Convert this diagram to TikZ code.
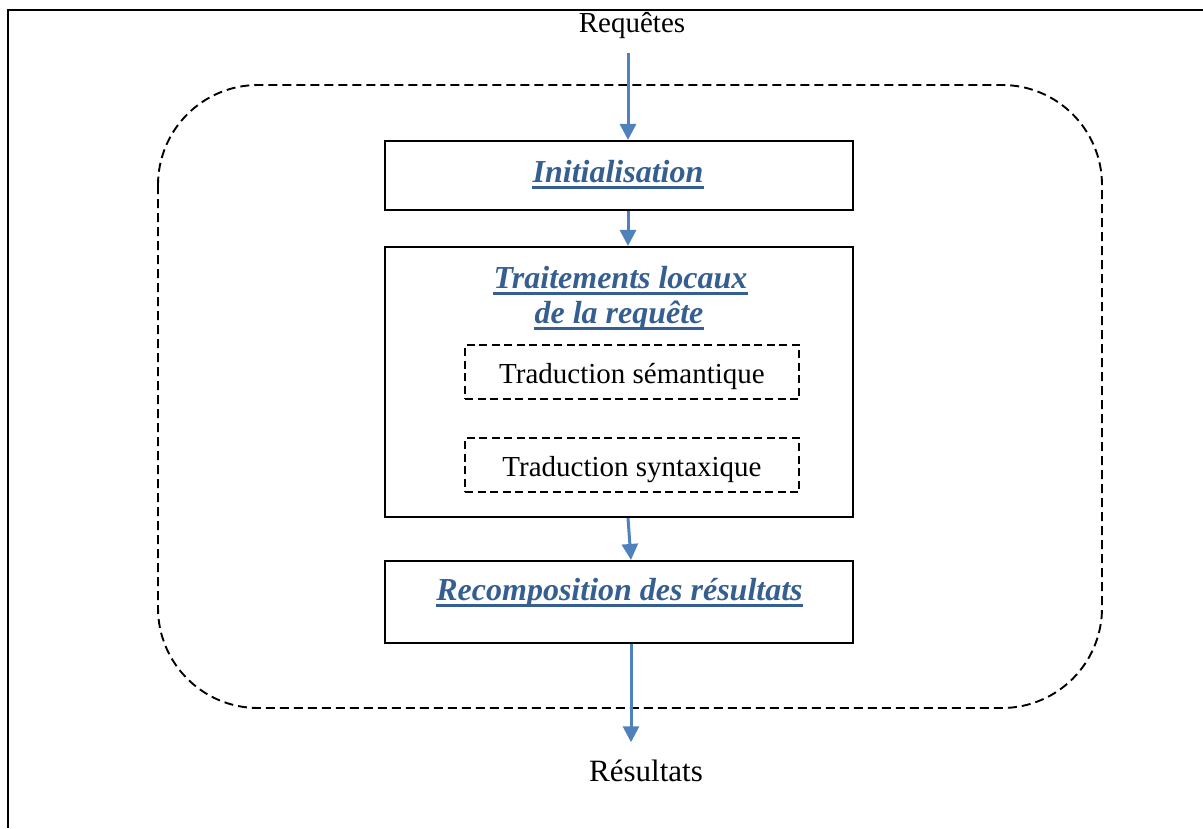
\documentclass[tikz,border=0pt]{standalone}
\usepackage{fontspec}
\setmainfont{Liberation Serif}
\usetikzlibrary{arrows.meta}
\definecolor{titleblue}{HTML}{365F91}
\definecolor{arrowblue}{HTML}{4F81BD}
\newcommand{\ttlfont}{\fontsize{32}{38}\selectfont\bfseries\itshape}
\newcommand{\lblfont}{\fontsize{29}{35}\selectfont}
\newcommand{\reslfont}{\fontsize{31}{37}\selectfont}

\begin{document}
\begin{tikzpicture}[x=1pt,y=-1pt,
  frame/.style={line width=2.1pt},
  zone/.style={line width=1.9pt, dash pattern=on 9pt off 5pt, rounded corners=100pt},
  block/.style={draw, line width=2.1pt, inner sep=0pt, minimum width=468pt},
  subblock/.style={draw, line width=2.6pt, dash pattern=on 8pt off 4.5pt,
    minimum width=334pt, minimum height=54pt, inner sep=0pt,
    text height=28pt, text depth=6pt, font=\lblfont},
  title/.style={inner sep=0pt, anchor=base, text=titleblue, font=\ttlfont},
  uline/.style={titleblue, line width=3pt},
  lbl/.style={inner sep=0pt, anchor=base, font=\lblfont},
  flow/.style={arrowblue, line width=3pt, -{Triangle[length=16pt,width=16pt]}}
]
\useasboundingbox (0,0) rectangle (1203,828);

% open page frame (left and top edges)
\draw[frame] (8,828) -- (8,10) -- (1203,10);

% dashed processing zone
\draw[zone] (158,85) rectangle (1102,708);

% main blocks
\node[block, minimum height=69pt]  (init)   at (619,175.5) {};
\node[block, minimum height=270pt] (trait)  at (619,382)   {};
\node[block, minimum height=82pt]  (recomp) at (619,602)   {};

% inner steps
\node[subblock] (sem) at (632,372) {Traduction sémantique};
\node[subblock] (syn) at (632,465) {Traduction syntaxique};

% block titles
\node[title] (tinit) at (618,182)   {Initialisation};
\node[title] (ttr1)  at (620.5,288) {Traitements locaux};
\node[title] (ttr2)  at (619,323)   {de la requête};
\node[title] (trec)  at (619.5,600) {Recomposition des résultats};
\foreach \t in {tinit,ttr1,ttr2,trec}
  \draw[uline] ([yshift=-5.5pt]\t.base west) -- ([yshift=-5.5pt]\t.base east);

% input and output
\node[lbl] (req) at (632,32) {Requêtes};
\node[lbl, font=\reslfont] (res) at (646,781) {Résultats};

% flow
\coordinate (ax) at (628,0);
\coordinate (bx) at (631,0);
\draw[flow, shorten <=15pt] (req.south -| ax) -- (init.north -| ax);
\draw[flow] (init.south -| ax) -- (trait.north -| ax);
\draw[flow] (trait.south -| ax) -- (recomp.north -| bx);
\draw[flow, shorten >=17pt] (recomp.south -| bx) -- (res.north -| bx);
\end{tikzpicture}
\end{document}
